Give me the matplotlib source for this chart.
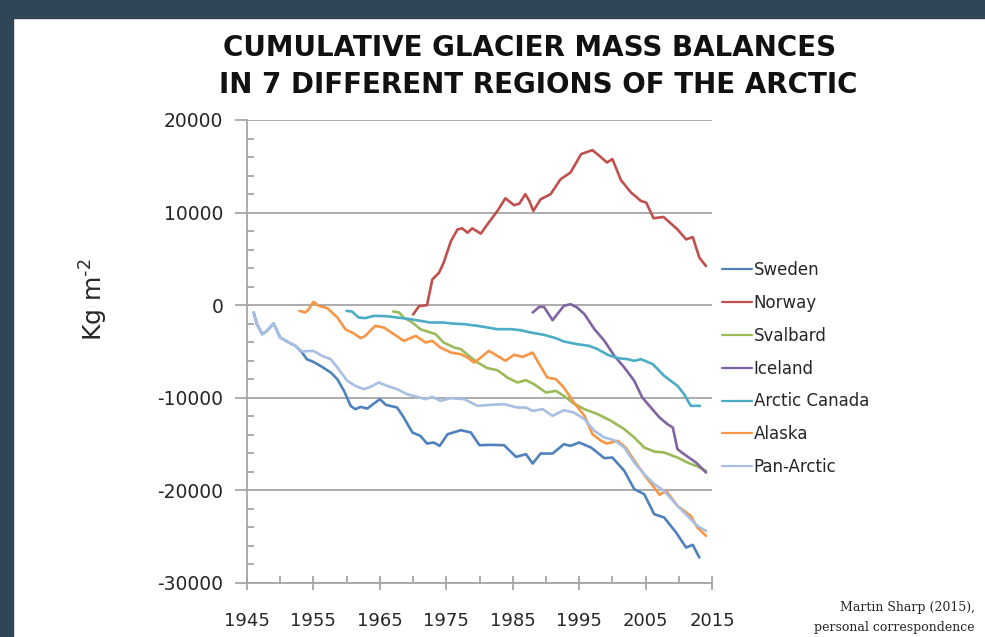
import matplotlib.pyplot as plt
from matplotlib.patches import Rectangle

# Cumulative mass balance (kg m-2)
sweden_years = [1946.0, 1946.5, 1947.3, 1948.0, 1949.0, 1950.0, 1951.3, 1952.3, 1953.3, 1954.0,
                1955.0, 1956.3, 1957.6, 1958.6, 1959.6, 1960.6, 1961.3, 1962.1, 1963.1, 1964.1,
                1965.0, 1965.9, 1967.6, 1968.6, 1969.9, 1971.1, 1972.1, 1973.1, 1974.0, 1975.2,
                1977.2, 1978.7, 1980.0, 1981.7, 1983.7, 1985.5, 1987.0, 1988.0, 1989.2, 1991.0,
                1992.7, 1993.7, 1995.0, 1996.8, 1998.8, 2000.0, 2001.8, 2003.3, 2004.8, 2006.3,
                2007.8, 2009.6, 2011.1, 2012.1, 2013.1]
sweden = [-790, -2050, -3130, -2770, -1980, -3490, -4030, -4390, -5110, -5830,
          -6120, -6660, -7270, -7990, -9250, -10870, -11230, -10980, -11160, -10620,
          -10150, -10760, -11050, -12130, -13750, -14110, -14940, -14830, -15190, -13930,
          -13500, -13750, -15120, -15080, -15120, -16380, -16090, -17100, -16020, -16020,
          -15010, -15190, -14830, -15370, -16520, -16450, -17890, -19870, -20410, -22570,
          -22930, -24550, -26170, -25880, -27250]

norway_years = [1970.0, 1970.9, 1972.1, 1972.9, 1973.9, 1974.6, 1975.7, 1976.7, 1977.4, 1978.2,
                1978.9, 1980.2, 1981.2, 1982.7, 1983.9, 1985.2, 1986.0, 1986.9, 1987.5, 1988.1,
                1989.2, 1990.7, 1992.2, 1993.7, 1995.3, 1997.0, 1998.2, 1999.2, 2000.0, 2001.3,
                2002.8, 2004.3, 2005.1, 2006.2, 2007.7, 2009.8, 2011.1, 2012.1, 2013.1, 2014.1]
norway = [-1000, -100, 0, 2780, 3500, 4580, 6930, 8190, 8300, 7830,
          8300, 7730, 8740, 10180, 11550, 10800, 10970, 11990, 11260, 10180,
          11440, 11990, 13600, 14330, 16320, 16750, 16030, 15410, 15780, 13500,
          12170, 11260, 11080, 9390, 9530, 8190, 7110, 7360, 5130, 4220]

svalbard_years = [1967.0, 1967.9, 1968.6, 1969.9, 1971.1, 1972.6, 1973.4, 1974.6, 1976.2, 1977.2,
                  1978.4, 1979.7, 1981.2, 1982.7, 1984.2, 1985.7, 1987.0, 1988.2, 1990.0, 1991.5,
                  1992.7, 1994.2, 1995.8, 1997.8, 1999.8, 2001.8, 2003.3, 2004.8, 2006.3, 2007.8,
                  2009.8, 2011.3, 2012.6, 2014.1]
svalbard = [-680, -790, -1330, -1870, -2590, -2950, -3130, -4030, -4570, -4750,
            -5470, -6190, -6800, -7020, -7810, -8350, -8100, -8530, -9430, -9250,
            -9790, -10620, -11230, -11770, -12490, -13390, -14290, -15370, -15800, -15910,
            -16450, -16990, -17350, -17890]

iceland_years = [1988.0, 1989.0, 1989.7, 1991.0, 1991.7, 1992.7, 1993.7, 1994.7, 1995.8, 1997.3,
                 1998.8, 2000.3, 2001.8, 2003.3, 2004.5, 2005.8, 2007.1, 2008.3, 2009.1, 2009.8,
                 2010.8, 2012.6, 2014.1]
iceland = [-790, -180, -180, -1620, -970, -70, 110, -250, -970, -2590,
           -3850, -5470, -6730, -8170, -9970, -11050, -12130, -12850, -13210, -15550,
           -16090, -16990, -18070]

canada_years = [1960.0, 1960.8, 1961.8, 1962.8, 1964.1, 1966.1, 1967.6, 1969.6, 1971.1, 1972.6,
                1974.6, 1975.9, 1977.7, 1979.7, 1982.7, 1984.7, 1986.2, 1987.7, 1989.7, 1991.5,
                1992.7, 1994.7, 1996.5, 1997.8, 1999.3, 2000.8, 2002.3, 2003.3, 2004.3, 2006.1,
                2007.8, 2009.8, 2010.8, 2011.8, 2013.2]
canada = [-610, -680, -1330, -1400, -1150, -1190, -1330, -1510, -1690, -1870,
          -1870, -1980, -2050, -2230, -2590, -2590, -2700, -2950, -3200, -3560,
          -3920, -4210, -4390, -4750, -5360, -5720, -5830, -6010, -5830, -6370,
          -7630, -8710, -9610, -10870, -10870]

alaska_years = [1952.9, 1953.8, 1954.3, 1955.0, 1955.8, 1957.1, 1958.6, 1959.8, 1961.1, 1962.1,
                1962.8, 1964.3, 1965.6, 1967.1, 1968.6, 1970.4, 1971.9, 1972.9, 1974.1, 1975.7,
                1977.2, 1978.2, 1979.2, 1980.2, 1981.4, 1982.7, 1983.9, 1985.2, 1986.5, 1988.0,
                1989.0, 1990.2, 1991.5, 1992.7, 1994.2, 1995.8, 1997.0, 1998.3, 1999.2, 2000.8,
                2002.0, 2003.5, 2005.1, 2006.3, 2007.1, 2008.1, 2009.8, 2011.8, 2012.8, 2014.1]
alaska = [-610, -790, -430, 360, -70, -320, -1330, -2590, -3060, -3560,
          -3310, -2230, -2410, -3130, -3850, -3310, -4030, -3850, -4570, -5110,
          -5290, -5650, -6190, -5650, -4930, -5470, -6010, -5360, -5580, -5110,
          -6370, -7810, -7990, -8890, -10510, -11950, -13930, -14650, -14940, -14650,
          -15370, -16990, -18610, -19690, -20480, -20050, -21670, -22750, -24010, -24910]

pan_years = [1946.0, 1946.5, 1947.3, 1948.0, 1949.0, 1950.0, 1951.3, 1952.3, 1953.3, 1955.0,
             1956.3, 1957.6, 1958.6, 1960.1, 1961.3, 1962.6, 1963.6, 1964.8, 1966.1, 1967.6,
             1969.1, 1970.6, 1971.9, 1972.9, 1974.1, 1975.7, 1977.7, 1979.7, 1981.7, 1983.7,
             1985.7, 1987.0, 1988.0, 1989.5, 1991.0, 1992.7, 1994.2, 1995.8, 1997.3, 1998.8,
             2000.3, 2001.8, 2003.3, 2004.8, 2006.3, 2007.8, 2009.8, 2011.3, 2012.8, 2014.1]
pan = [-790, -2050, -3130, -2770, -1980, -3490, -4030, -4390, -5000, -4930,
       -5470, -5830, -6730, -8170, -8710, -9070, -8820, -8350, -8710, -9070,
       -9610, -9900, -10150, -9900, -10330, -10040, -10150, -10870, -10760, -10690,
       -11050, -11050, -11410, -11230, -11950, -11340, -11590, -12310, -13570, -14290,
       -14580, -15370, -16990, -18250, -19330, -20050, -21670, -22750, -23830, -24370]

series = [
    ("Sweden", sweden_years, sweden, "#4F81BD"),
    ("Norway", norway_years, norway, "#C0504D"),
    ("Svalbard", svalbard_years, svalbard, "#9BBB59"),
    ("Iceland", iceland_years, iceland, "#8064A2"),
    ("Arctic Canada", canada_years, canada, "#4BACC6"),
    ("Alaska", alaska_years, alaska, "#F79646"),
    ("Pan-Arctic", pan_years, pan, "#A7BFE2"),
]

plt.rcParams['font.family'] = ['DejaVu Sans']
plt.rcParams['axes.unicode_minus'] = False

fig = plt.figure(figsize=(9.85, 6.37), dpi=100)
# dark slide border
fig.patches.append(Rectangle((0, 1 - 18 / 637), 1, 18 / 637, transform=fig.transFigure,
                             color="#2F4558", zorder=0))
fig.patches.append(Rectangle((0, 0), 13 / 985, 1, transform=fig.transFigure,
                             color="#2F4558", zorder=0))

ax = fig.add_axes([247 / 985, 1 - 583 / 637, 465 / 985, 463 / 637])
grid_col = "#A6A6A6"
txt_col = "#262626"

for name, xs, ys, col in series:
    ax.plot(xs, ys, color=col, lw=1.9, label=name, solid_capstyle='round')

ax.set_xlim(1945, 2015)
ax.set_ylim(-30000, 20000)
ax.set_xticks(range(1945, 2016, 10))
ax.set_xticks(range(1950, 2016, 10), minor=True)
ax.set_yticks(range(-30000, 20001, 10000))
ax.set_yticks([v for v in range(-30000, 20001, 2000) if v % 10000], minor=True)
ax.yaxis.grid(True, color=grid_col, lw=1.3)
ax.set_axisbelow(True)
for s in ["top", "right"]:
    ax.spines[s].set_visible(False)
for s in ["left", "bottom"]:
    ax.spines[s].set_color(grid_col)
    ax.spines[s].set_linewidth(1.3)
ax.tick_params(axis='y', which='major', direction='out', length=9, color=grid_col,
               width=1.3, labelsize=13.5, pad=8, labelcolor=txt_col)
ax.tick_params(axis='y', which='minor', direction='in', length=5, color=grid_col, width=1.3)
ax.tick_params(axis='x', which='major', direction='inout', length=10, color=grid_col,
               width=1.3, labelsize=13, pad=16, labelcolor=txt_col)
ax.tick_params(axis='x', which='minor', direction='in', length=5, color=grid_col, width=1.3)

ax.set_ylabel("Kg m$^{\\text{-2}}$", fontsize=18, color=txt_col)
ax.yaxis.set_label_coords(-0.295, 0.611)

leg = ax.legend(loc='upper left', bbox_to_anchor=(722 / 985, 1 - 261 / 637),
                bbox_transform=fig.transFigure, frameon=False, fontsize=12,
                handlelength=1.8, handletextpad=0.1, labelspacing=0.89, borderpad=0,
                borderaxespad=0)
for line in leg.get_lines():
    line.set_linewidth(1.6)
for t in leg.get_texts():
    t.set_color(txt_col)

fig.text(530 / 985, 1 - 48 / 637, "CUMULATIVE GLACIER MASS BALANCES", ha='center', va='center',
         fontsize=20, fontweight='bold', color="#111111")
fig.text(538 / 985, 1 - 85 / 637, "IN 7 DIFFERENT REGIONS OF THE ARCTIC", ha='center', va='center',
         fontsize=20, fontweight='bold', color="#111111")

fig.text(975 / 985, 1 - 608 / 637, "Martin Sharp (2015),", ha='right', va='center',
         fontsize=9, family='DejaVu Serif', color=txt_col)
fig.text(975 / 985, 1 - 628 / 637, "personal correspondence", ha='right', va='center',
         fontsize=9, family='DejaVu Serif', color=txt_col)

fig.savefig("out.png", dpi=100)
